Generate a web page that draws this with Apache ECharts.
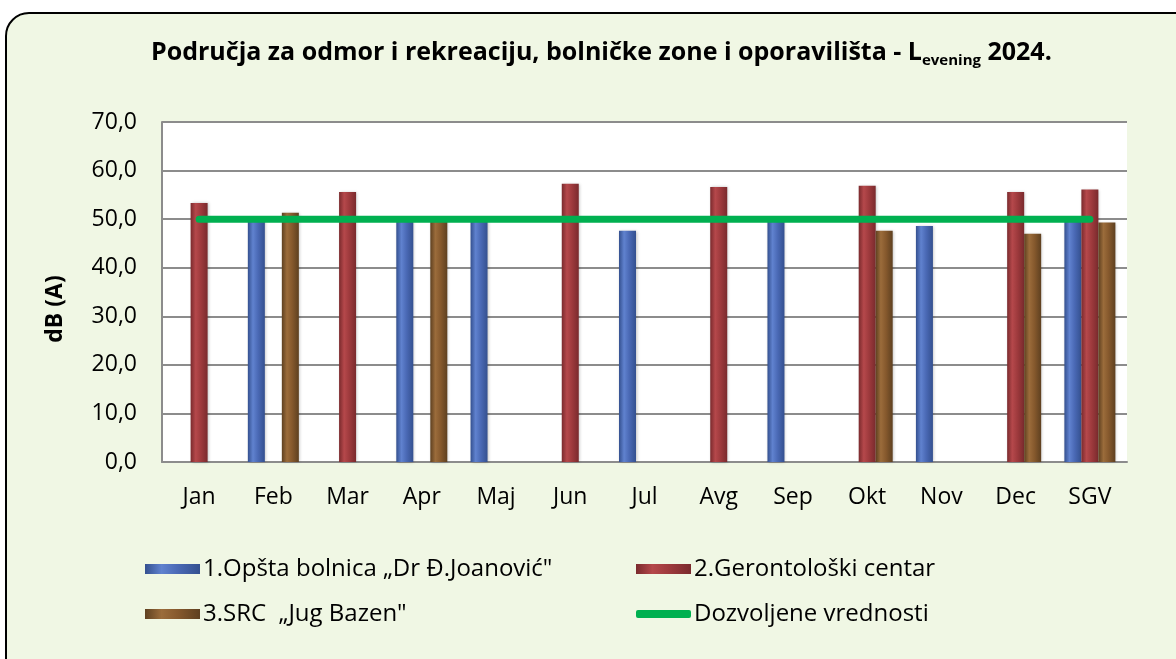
<!DOCTYPE html>
<html>
<head>
<meta charset="utf-8">
<script src="https://cdn.jsdelivr.net/npm/echarts@6/dist/echarts.min.js"></script>
<style>
  html, body { margin: 0; padding: 0; background: #fff; overflow: hidden; }
  #frame {
    position: absolute; left: 5px; top: 12px; width: 1200px; height: 700px;
    border: 2px solid #000; border-radius: 24px; background: #f0f7e4;
  }
  #chart { position: absolute; left: 0; top: 0; width: 1176px; height: 659px; }
</style>
</head>
<body>
<div id="frame"></div>
<div id="chart"></div>
<script>
// meseci + srednja godisnja vrednost
const months = ['Jan', 'Feb', 'Mar', 'Apr', 'Maj', 'Jun', 'Jul', 'Avg', 'Sep', 'Okt', 'Nov', 'Dec', 'SGV'];
const bolnica = [null, 49.9, null, 49.6, 49.6, null, 47.6, null, 49.6, null, 48.6, null, 49.4];
const gerontoloski = [53.3, null, 55.6, null, null, 57.3, null, 56.6, null, 56.9, null, 55.6, 56.1];
const bazen = [null, 51.3, null, 49.8, null, null, null, null, null, 47.6, null, 47.0, 49.3];
const limit = [50, 50, 50, 50, 50, 50, 50, 50, 50, 50, 50, 50, 50];
const yTicks = [0, 10, 20, 30, 40, 50, 60, 70];

const names = ['1.Opšta bolnica „Dr Đ.Joanović"', '2.Gerontološki centar', '3.SRC  „Jug Bazen"', 'Dozvoljene vrednosti'];
const font = '"Open Sans", "Noto Sans", sans-serif';

// cilindricni izgled stubica
function cyl(dark, mid, light) {
  return new echarts.graphic.LinearGradient(0, 0, 1, 0, [
    { offset: 0, color: dark },
    { offset: 0.3, color: light },
    { offset: 0.6, color: mid },
    { offset: 1, color: dark }
  ]);
}
const colBlue = cyl('#34508f', '#4a69b5', '#6082cf');
const colRed = cyl('#7a2a2d', '#9e3a3d', '#b5484b');
const colBrown = cyl('#5e4020', '#86592d', '#9b6c3b');

function barSeries(name, data, color) {
  return {
    name: name, type: 'bar', data: data, barWidth: 17, barGap: '0%',
    itemStyle: { color: color, shadowColor: 'rgba(0,0,0,0.25)', shadowBlur: 3, shadowOffsetX: 1 }
  };
}

const chart = echarts.init(document.getElementById('chart'));
chart.setOption({
  backgroundColor: 'transparent',
  animation: false,
  title: {
    text: '{t|Područja za odmor i rekreaciju, bolničke zone i oporavilišta - L}{s|evening}{t| 2024.}',
    left: 146, top: 33,
    textStyle: {
      rich: {
        t: { fontFamily: font, fontWeight: 'bold', fontSize: 25, color: '#000' },
        s: { fontFamily: font, fontWeight: 'bold', fontSize: 15, color: '#000', verticalAlign: 'bottom', padding: [15, 0, 0, 0] }
      }
    }
  },
  legend: [
    { data: [names[0]], left: 140, top: 552 },
    { data: [names[1]], left: 631, top: 552 },
    { data: [names[2]], left: 140, top: 597 },
    { data: [names[3]], left: 631, top: 597, icon: 'roundRect', itemHeight: 8 }
  ].map(l => Object.assign({ itemWidth: 55, itemHeight: 10, itemGap: 0, icon: 'rect',
    textStyle: { fontFamily: font, fontSize: 24, color: '#000', padding: [0, 0, 0, -2] } }, l)),
  grid: { left: 162, right: 49, top: 122, bottom: 197, backgroundColor: '#fff', show: true, borderWidth: 0 },
  xAxis: {
    type: 'category', data: months,
    axisLine: { lineStyle: { color: '#8c8c8c', width: 2 } },
    axisTick: { show: false },
    axisLabel: { fontFamily: font, fontSize: 23, color: '#000', margin: 24 }
  },
  yAxis: {
    type: 'value', min: yTicks[0], max: yTicks[yTicks.length - 1], interval: 10,
    axisLine: { show: true, lineStyle: { color: '#8c8c8c', width: 2 } },
    axisTick: { show: false },
    axisLabel: { fontFamily: font, fontSize: 23, color: '#000', margin: 25, formatter: v => v.toFixed(1).replace('.', ',') },
    splitLine: { lineStyle: { color: '#8c8c8c', width: 2 } }
  },
  graphic: [{
    type: 'text', x: 55, y: 309, rotation: Math.PI / 2,
    style: { text: 'dB (A)', fontFamily: font, fontWeight: 'bold', fontSize: 23, fill: '#000', align: 'center', verticalAlign: 'middle' }
  }],
  series: [
    barSeries(names[0], bolnica, colBlue),
    barSeries(names[1], gerontoloski, colRed),
    barSeries(names[2], bazen, colBrown),
    {
      name: names[3], type: 'line', data: limit, symbol: 'none', z: 5,
      itemStyle: { color: '#00b050' },
      lineStyle: { color: '#00b050', width: 7, cap: 'round' }
    }
  ]
});
</script>
</body>
</html>
